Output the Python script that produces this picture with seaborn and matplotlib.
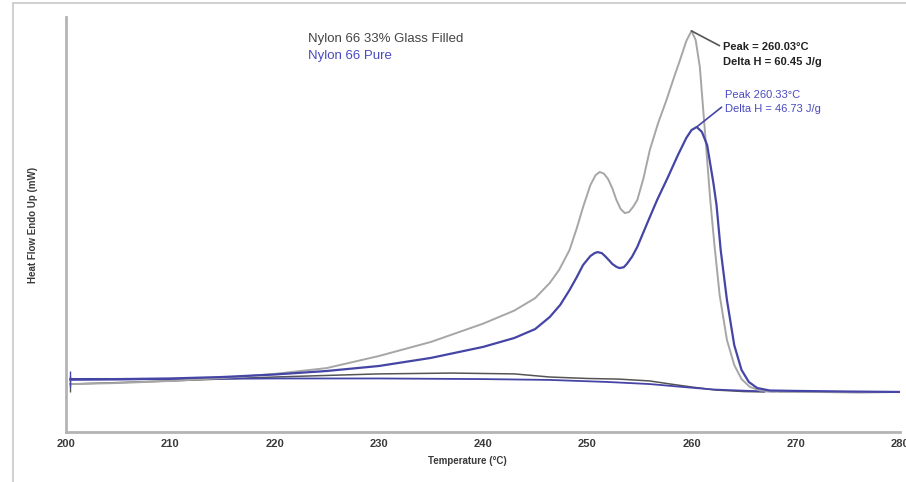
import matplotlib
matplotlib.use("Agg")
import matplotlib.pyplot as plt
from matplotlib import font_manager
from matplotlib.lines import Line2D
import seaborn as sns
import pandas as pd

# --- DSC scan data: temperature (°C) and heat flow (mW) ---
glass_temp = [200.4, 205, 210, 215, 220, 225, 230, 235, 240, 243, 245, 246.4, 247.3,
              248.3, 249.0, 249.6, 250.3, 250.8, 251.2, 251.6, 252.0, 252.4, 252.8,
              253.2, 253.6, 254.0, 254.4, 254.8, 255.4, 256.0, 256.8, 257.6, 258.3,
              258.9, 259.5, 260.0, 260.4, 260.8, 261.3, 261.8, 262.2, 262.7, 263.4,
              264.1, 264.8, 265.6, 266.6, 268.5, 272, 276, 280]
glass_flow = [2.31, 2.36, 2.46, 2.60, 2.80, 3.08, 3.66, 4.34, 5.22, 5.85, 6.45, 7.18, 7.81,
              8.77, 9.83, 10.84, 11.90, 12.38, 12.53, 12.45, 12.19, 11.75, 11.18,
              10.75, 10.55, 10.60, 10.85, 11.18, 12.24, 13.59, 14.89, 16.00, 17.06,
              17.93, 18.84, 19.33, 18.89, 17.59, 14.41, 11.18, 9.01, 6.60, 4.43,
              3.23, 2.55, 2.17, 2.00, 1.93, 1.93, 1.90, 1.93]

pure_temp = [200.4, 205, 210, 215, 220, 225, 230, 235, 240, 243, 245, 246.4, 247.4,
             248.3, 249.0, 249.6, 250.3, 250.7, 251.0, 251.4, 251.7, 252.1, 252.4,
             252.8, 253.1, 253.5, 253.8, 254.3, 254.8, 255.8, 256.7, 257.7, 258.7,
             259.5, 260.0, 260.5, 261.0, 261.5, 262.1, 262.4, 262.8, 263.4, 264.1,
             264.8, 265.5, 266.3, 267.5, 270, 275, 280]
pure_flow = [2.55, 2.55, 2.58, 2.65, 2.77, 2.94, 3.18, 3.57, 4.10, 4.53, 4.96, 5.54, 6.12,
             6.84, 7.47, 8.05, 8.48, 8.62, 8.67, 8.62, 8.48, 8.27, 8.10,
             7.96, 7.90, 7.94, 8.10, 8.45, 8.92, 10.12, 11.18, 12.24, 13.35,
             14.17, 14.55, 14.70, 14.46, 13.83, 12.00, 10.94, 8.77, 6.36, 4.19,
             2.99, 2.41, 2.12, 2.00, 1.98, 1.95, 1.93]

# integration baselines used for the enthalpy calculation
glass_base_temp = [200.4, 210, 220, 230, 237, 243, 246.4, 250, 253, 256, 258, 260,
                   262.4, 265, 267]
glass_base_flow = [2.31, 2.46, 2.65, 2.80, 2.84, 2.80, 2.65, 2.58, 2.55, 2.46, 2.31,
                   2.17, 2.02, 1.95, 1.93]
pure_base_temp = [200.4, 210, 220, 230, 240, 246.4, 252, 256, 259.2, 262, 265.6, 268]
pure_base_flow = [2.51, 2.55, 2.58, 2.58, 2.55, 2.51, 2.41, 2.31, 2.17, 2.05, 1.98, 1.95]

x_ticks = [200, 210, 220, 230, 240, 250, 260, 270, 280]

series_names = ["Nylon 66 33% Glass Filled", "Nylon 66 Pure"]
glass_note = ["Peak = 260.03°C", "Delta H = 60.45 J/g"]
pure_note = ["Peak 260.33°C", "Delta H = 46.73 J/g"]

GRAY = "#a6a6a6"
GRAY_DARK = "#555555"
BLUE = "#4545a6"
BLUE_TEXT = "#4a4ac0"

sns.set_theme(style="white")
installed = {f.name for f in font_manager.fontManager.ttflist}
narrow = "Liberation Sans Narrow" if "Liberation Sans Narrow" in installed else "Liberation Sans"
plt.rcParams["font.family"] = ["Liberation Sans", "DejaVu Sans"]

fig = plt.figure(figsize=(9.06, 4.82), dpi=100)
ax = fig.add_axes([66 / 906, 50 / 482, 834 / 906, 415 / 482])

# thin page frame around the chart
fig.add_artist(Line2D([13 / 906, 13 / 906], [0, 479 / 482], transform=fig.transFigure,
                      color="#c9c9c9", lw=1.2))
fig.add_artist(Line2D([13 / 906, 1], [479 / 482, 479 / 482], transform=fig.transFigure,
                      color="#c9c9c9", lw=1.2))

glass = pd.DataFrame({"T": glass_temp, "HF": glass_flow})
pure = pd.DataFrame({"T": pure_temp, "HF": pure_flow})
glass_base = pd.DataFrame({"T": glass_base_temp, "HF": glass_base_flow})
pure_base = pd.DataFrame({"T": pure_base_temp, "HF": pure_base_flow})

sns.lineplot(data=glass_base, x="T", y="HF", ax=ax, color=GRAY_DARK, lw=1.1)
sns.lineplot(data=pure_base, x="T", y="HF", ax=ax, color=BLUE, lw=1.3)
sns.lineplot(data=glass, x="T", y="HF", ax=ax, color=GRAY, lw=1.4)
sns.lineplot(data=pure, x="T", y="HF", ax=ax, color=BLUE, lw=1.6)

# start-of-integration markers
ax.plot([glass_temp[0]], [glass_flow[0]], marker="|", ms=12, color=GRAY_DARK, mew=1)
ax.plot([pure_temp[0]], [pure_flow[0]], marker="|", ms=12, color=BLUE, mew=1)

ax.set_xlim(200, 280)
ax.set_ylim(0, 20)
ax.set_xticks(x_ticks)
ax.set_xticklabels([str(t) for t in x_ticks], fontsize=8, fontweight="bold",
                   color="#3a3a3a", family=narrow)
ax.set_yticks([])
ax.tick_params(axis="x", length=0, pad=5)

for side in ["top", "right"]:
    ax.spines[side].set_visible(False)
for side in ["left", "bottom"]:
    ax.spines[side].set_color("#b4b4b4")
    ax.spines[side].set_linewidth(2)

ax.set_xlabel("Temperature (°C)", fontsize=7, fontweight="bold", color="#3a3a3a",
              family=narrow, labelpad=2)
ax.xaxis.set_label_coords(0.481, -0.058)
ax.set_ylabel("Heat Flow Endo Up (mW)", fontsize=7, fontweight="bold", color="#3a3a3a",
              family=narrow)
ax.yaxis.set_label_coords(-0.033, 0.5)

# series legend as coloured text
ax.text(0.290, 0.948, series_names[0], transform=ax.transAxes, fontsize=9.5,
        color="#444444", va="center", ha="left")
ax.text(0.290, 0.907, series_names[1], transform=ax.transAxes, fontsize=9.5,
        color=BLUE_TEXT, va="center", ha="left")

# peak annotations with leader lines
g_peak = max(range(len(glass_flow)), key=lambda i: glass_flow[i])
p_peak = max(range(len(pure_flow)), key=lambda i: pure_flow[i])
ax.annotate("\n".join(glass_note), xy=(glass_temp[g_peak], glass_flow[g_peak]),
            xytext=(263.0, 18.2), fontsize=8, fontweight="bold", color="#222222",
            va="center", ha="left", linespacing=1.6,
            arrowprops=dict(arrowstyle="-", color=GRAY_DARK, lw=1.2,
                            shrinkA=0, shrinkB=0, relpos=(0, 0.78)))
ax.annotate("\n".join(pure_note), xy=(pure_temp[p_peak], pure_flow[p_peak]),
            xytext=(263.2, 15.9), fontsize=8, color=BLUE_TEXT,
            va="center", ha="left", linespacing=1.6,
            arrowprops=dict(arrowstyle="-", color=BLUE, lw=1.2,
                            shrinkA=0, shrinkB=0, relpos=(0, 0.4)))

fig.savefig("out.png", dpi=100, facecolor="white")
